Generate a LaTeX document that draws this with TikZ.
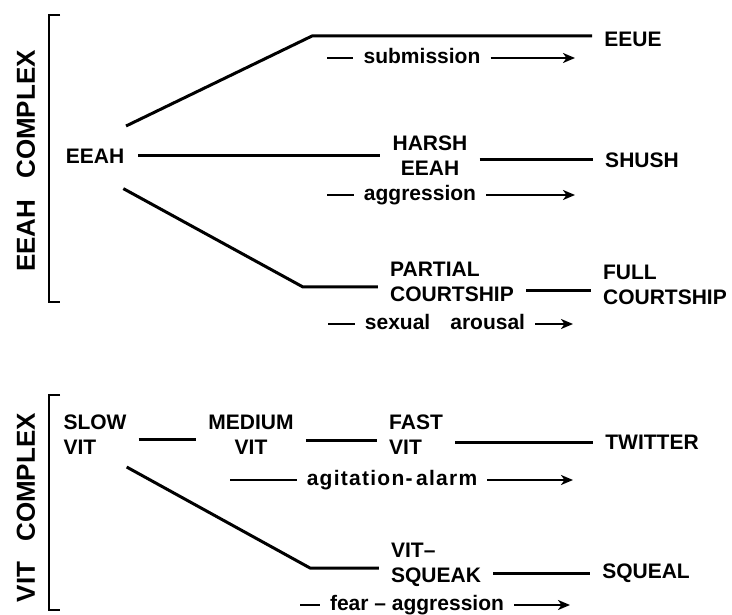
\documentclass[tikz,border=0pt]{standalone}
\usepackage{fontspec}
\setmainfont{Liberation Sans}
\usetikzlibrary{arrows.meta}

\begin{document}
\begin{tikzpicture}[x=1pt,y=-1pt,
    lbl/.style={font=\bfseries\fontsize{21}{25}\selectfont,inner xsep=12pt,inner ysep=4pt},
    note/.style={font=\bfseries\fontsize{21}{25}\selectfont,inner xsep=10pt,text height=15pt,text depth=4pt},
    ttl/.style={font=\bfseries\fontsize{26}{30}\selectfont,rotate=90,inner sep=0pt},
    lnk/.style={line width=3pt,line join=round},
    cue/.style={line width=2.4pt},
    tip/.style={cue,-{Stealth[length=12pt,width=10pt,inset=3.5pt]}}]
    \useasboundingbox (0,0) rectangle (732,615);
    % EEAH complex
    \node[ttl] (eeahT) at (26,161) {EEAH\hspace{21pt}COMPLEX};
    \draw[line width=2pt] (60,15) -- (49,15) -- (49,302) -- (60,302);
    \node[lbl,circle,minimum size=86pt,inner sep=0pt] (eeah) at (95,156) {EEAH};
    \node[lbl] (eeue) at (633,39) {EEUE};
    \node[lbl,align=center] (harsh) at (430,156) {HARSH\\EEAH};
    \node[lbl] (shush) at (642,160) {SHUSH};
    \node[lbl,align=left] (partial) at (452,282) {PARTIAL\\COURTSHIP};
    \node[lbl,align=left] (full) at (665,285) {FULL\\COURTSHIP};
    \coordinate (bendU) at (312,36);
    \coordinate (bendL) at (303,287);
    \draw[lnk] (eeah.44) -- (bendU) -- (bendU -| eeue.west);
    \draw[lnk] (eeah.0) -- (harsh);
    \draw[lnk] (harsh.east |- shush) -- (shush);
    \draw[lnk] (eeah.-49) -- (bendL) -- (bendL -| partial.west);
    \draw[lnk] ([yshift=-9pt]partial.east) -- ([yshift=-9pt]partial.east -| full.west);
    % drives
    \node[note] (sub) at (422,58) {submission};
    \coordinate (subA) at (327,58);
    \coordinate (subB) at (575,58);
    \draw[cue] (subA) -- (sub);
    \draw[tip] (sub) -- (subB);
    \node[note] (aggr) at (420,195) {aggression};
    \coordinate (aggrA) at (327,195);
    \coordinate (aggrB) at (575,195);
    \draw[cue] (aggrA) -- (aggr);
    \draw[tip] (aggr) -- (aggrB);
    \node[note] (sex) at (445,324) {sexual\hspace{20pt}arousal};
    \coordinate (sexA) at (328,324);
    \coordinate (sexB) at (573,324);
    \draw[cue] (sexA) -- (sex);
    \draw[tip] (sex) -- (sexB);
    % VIT complex
    \node[ttl,anchor=east] (vitT) at (26,413) {VIT\hspace{20pt}COMPLEX};
    \draw[line width=2pt] (60,395) -- (49,395) -- (49,610) -- (60,610);
    \node[lbl,align=left] (slow) at (95,435) {SLOW\\VIT};
    \node[lbl,align=center] (medium) at (251,435) {MEDIUM\\VIT};
    \node[lbl,align=left] (fast) at (416,435) {FAST\\VIT};
    \node[lbl] (twitter) at (652,442) {TWITTER};
    \node[lbl,align=left] (vitsq) at (436,565) {VIT--\\SQUEAK};
    \node[lbl] (squeal) at (646,573) {SQUEAL};
    \coordinate (bendV) at (310,568);
    \draw[lnk] ([yshift=-4pt]slow.east) -- ([yshift=-4pt]slow.east -| medium.west);
    \draw[lnk] ([yshift=-5pt]medium.east) -- ([yshift=-5pt]medium.east -| fast.west);
    \draw[lnk] (fast.east |- twitter) -- (twitter);
    \draw[lnk] ([shift={(-12pt,-8pt)}]slow.south east) -- (bendV) -- (bendV -| vitsq.west);
    \draw[lnk] (vitsq.east |- squeal) -- (squeal);
    \node[note] (agit) at (392,480) {\addfontfeatures{LetterSpace=6}agitation-\,alarm};
    \coordinate (agitA) at (230,480);
    \coordinate (agitB) at (573,480);
    \draw[cue] (agitA) -- (agit);
    \draw[tip] (agit) -- (agitB);
    \node[note] (fear) at (417,605) {fear -- aggression};
    \coordinate (fearA) at (300,605);
    \coordinate (fearB) at (570,605);
    \draw[cue] (fearA) -- (fear);
    \draw[tip] (fear) -- (fearB);
\end{tikzpicture}
\end{document}
